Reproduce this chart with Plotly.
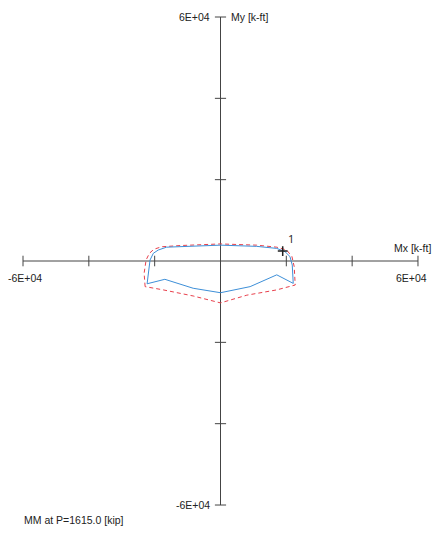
import plotly.graph_objects as go

# diagrama de interaccion Mx-My (valores en k-ft)
mx_cap = [-22900, -23200, -22600, -21600, -20200, -17900, -12300, 0, 11000, 17100, 20100, 21700, 22400, 22700,
          17100, 8000, 0, -8300, -17400, -22900]
my_cap = [-6300, -3000, 250, 1900, 2900, 3500, 3800, 4200, 3900, 3400, 2700, 1100, -1400, -5900,
          -7100, -8400, -10300, -8600, -7100, -6300]

mx_dem = [-22300, -21900, -21400, -20400, -18900, -16400, -12300, 0, 11000, 17100, 19600, 21100, 21800, 22100,
          17100, 9000, 0, -8300, -16900, -19900, -22300]
my_dem = [-5600, -2200, 250, 1900, 2700, 3400, 3500, 3900, 3600, 3100, 2300, 1100, -1000, -5500,
          -3400, -6300, -7800, -6700, -4500, -5100, -5600]

punto_x = [18900]
punto_y = [2450]
punto_txt = ['1']

lim = 60000
ticks = [-40000, -20000, 20000, 40000]

fig = go.Figure()

# ejes
fig.add_trace(go.Scatter(x=[-lim, lim], y=[0, 0], mode='lines', line=dict(color='#444', width=1), hoverinfo='skip'))
fig.add_trace(go.Scatter(x=[0, 0], y=[-lim, lim], mode='lines', line=dict(color='#444', width=1), hoverinfo='skip'))

# marcas de los ejes
tx, ty = [], []
for t in ticks + [-lim, lim]:
    tx += [t, t, None]
    ty += [-1300, 1300, None]
for t in ticks + [-lim, lim]:
    tx += [-1700, 1700, None]
    ty += [t, t, None]
fig.add_trace(go.Scatter(x=tx, y=ty, mode='lines', line=dict(color='#444', width=1), hoverinfo='skip'))

fig.add_trace(go.Scatter(x=mx_cap, y=my_cap, mode='lines', line=dict(color='#e8404c', width=1, dash='4px,3px')))
fig.add_trace(go.Scatter(x=mx_dem, y=my_dem, mode='lines', line=dict(color='#3d8fd8', width=1)))
fig.add_trace(go.Scatter(x=punto_x, y=punto_y, mode='markers+text', text=punto_txt,
                         textposition='top right', textfont=dict(size=11, color='#222'),
                         marker=dict(symbol='cross-thin', size=7, line=dict(color='#222', width=1.5))))

fuente = dict(family='Liberation Sans, Arial', size=10.5, color='#222')
notas = [
    dict(x=-2500, y=lim, text='6E+04', xanchor='right', yanchor='middle'),
    dict(x=2500, y=lim, text='My [k-ft]', xanchor='left', yanchor='middle'),
    dict(x=-2500, y=-lim, text='-6E+04', xanchor='right', yanchor='middle'),
    dict(x=-59400, y=-2300, text='-6E+04', xanchor='center', yanchor='top'),
    dict(x=58000, y=-2300, text='6E+04', xanchor='center', yanchor='top'),
    dict(x=64600, y=1300, text='Mx [k-ft]', xanchor='right', yanchor='bottom'),
]
for n in notas:
    fig.add_annotation(**n, xref='x', yref='y', showarrow=False, font=fuente)
fig.add_annotation(x=22 / 435, y=1 - 520 / 533, xref='paper', yref='paper', text='MM at P=1615.0 [kip]',
                   showarrow=False, font=fuente, xanchor='left', yanchor='middle')

fig.update_layout(
    width=435, height=533,
    margin=dict(l=0, r=0, t=0, b=0),
    paper_bgcolor='white', plot_bgcolor='white',
    showlegend=False,
    xaxis=dict(range=[-66990, 65170], visible=False, fixedrange=True),
    yaxis=dict(range=[-66880, 64180], visible=False, fixedrange=True),
)

fig.write_html("out.html", config={'displayModeBar': False}, post_script="document.body.style.margin='0';")
